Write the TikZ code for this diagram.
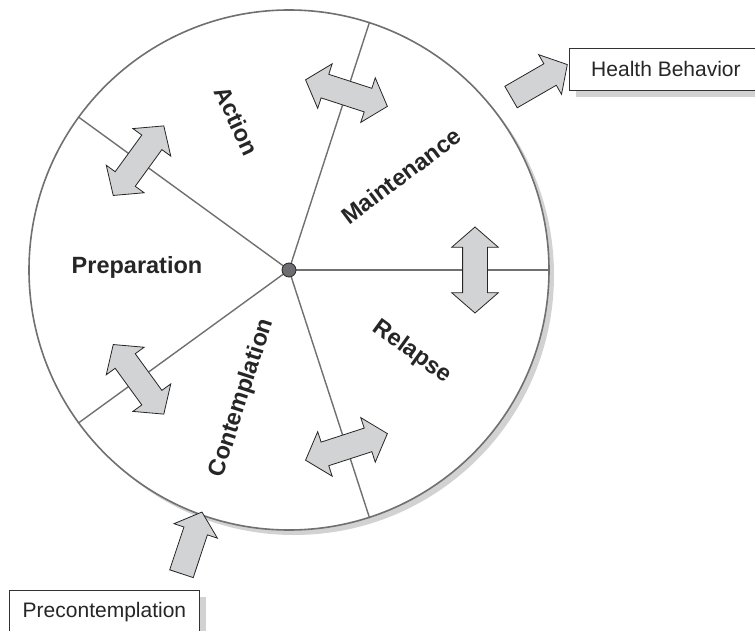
\documentclass[tikz,border=0pt]{standalone}
\usepackage{fontspec}
\setmainfont{Liberation Sans}
\usetikzlibrary{shapes.arrows, shadows}

\definecolor{wheelline}{HTML}{707070}
\definecolor{arrowfill}{HTML}{D2D3D5}
\definecolor{shade}{HTML}{D2D2D2}
\definecolor{hubfill}{HTML}{6D6E71}

\begin{document}
\begin{tikzpicture}[x=1pt, y=1pt,
    stage/.style={font=\fontsize{23.5}{28}\selectfont\bfseries, text=black!85, inner sep=0pt},
    spoke/.style={draw=wheelline, line width=1.4pt},
    swap arrow/.style={double arrow, draw=black!85, fill=arrowfill, line width=0.8pt, minimum height=86pt, minimum width=46pt, double arrow head extend=11pt, double arrow tip angle=98, inner xsep=0pt, inner ysep=12pt},
    out arrow/.style={single arrow, draw=black!85, fill=arrowfill, line width=0.8pt, minimum height=65pt, minimum width=45pt, single arrow head extend=10.5pt, single arrow tip angle=98, inner xsep=0pt, inner ysep=12pt},
    outcome/.style={draw=black!80, fill=white, line width=0.9pt, font=\fontsize{21}{25}\selectfont, text=black!85, inner sep=0pt, anchor=north west, drop shadow={shadow xshift=7pt, shadow yshift=-7pt, fill=shade, opacity=1}}]
    \useasboundingbox (0,0) rectangle (755,-631);
    \clip (0,0) rectangle (755,-631);
    % the wheel of stages
    \node[circle, draw=wheelline, fill=white, line width=1.6pt, minimum size=520pt, inner sep=0pt, drop shadow={shadow xshift=5pt, shadow yshift=-5pt, fill=shade, opacity=1}] at (289,-270) (wheel) {};
    \draw[spoke] (wheel.center) -- (wheel.72);
    \draw[spoke] (wheel.center) -- (wheel.144);
    \draw[spoke] (wheel.center) -- (wheel.216);
    \draw[spoke] (wheel.center) -- (wheel.288);
    \draw[spoke] (wheel.center) -- (wheel.0);
    \node[circle, draw=black!85, fill=hubfill, line width=0.8pt, minimum size=14pt, inner sep=0pt] at (wheel.center) (hub) {};
    % stage names
    \node[stage, rotate=-65] at (237,-121) (action) {Action};
    \node[stage, rotate=37] at (401,-176) (maintenance) {Maintenance};
    \node[stage, rotate=-36] at (412,-352) (relapse) {Relapse};
    \node[stage, rotate=72] at (242,-398) (contemplation) {Contemplation};
    \node[stage] at (137,-267) (preparation) {Preparation};
    % moving back and forth between stages
    \node[swap arrow, rotate=162] at ([shift={(72:186)}]wheel.center) (actmain) {};
    \node[swap arrow, rotate=234] at ([shift={(144:186)}]wheel.center) (prepact) {};
    \node[swap arrow, rotate=306] at ([shift={(216:186)}]wheel.center) (contprep) {};
    \node[swap arrow, rotate=18] at ([shift={(288:186)}]wheel.center) (relcont) {};
    \node[swap arrow, rotate=90] at ([shift={(0:186)}]wheel.center) (mainrel) {};
    % entry and exit
    \node[outcome, minimum width=193pt, minimum height=42pt] at (569,-48) (health) {Health Behavior};
    \node[outcome, minimum width=190pt, minimum height=44pt] at (9,-590) (precont) {Precontemplation};
    \node[out arrow, rotate=30] at (534.5,-83.5) (exit) {};
    \node[out arrow, rotate=71.6] at (190,-548) (entry) {};
\end{tikzpicture}
\end{document}
